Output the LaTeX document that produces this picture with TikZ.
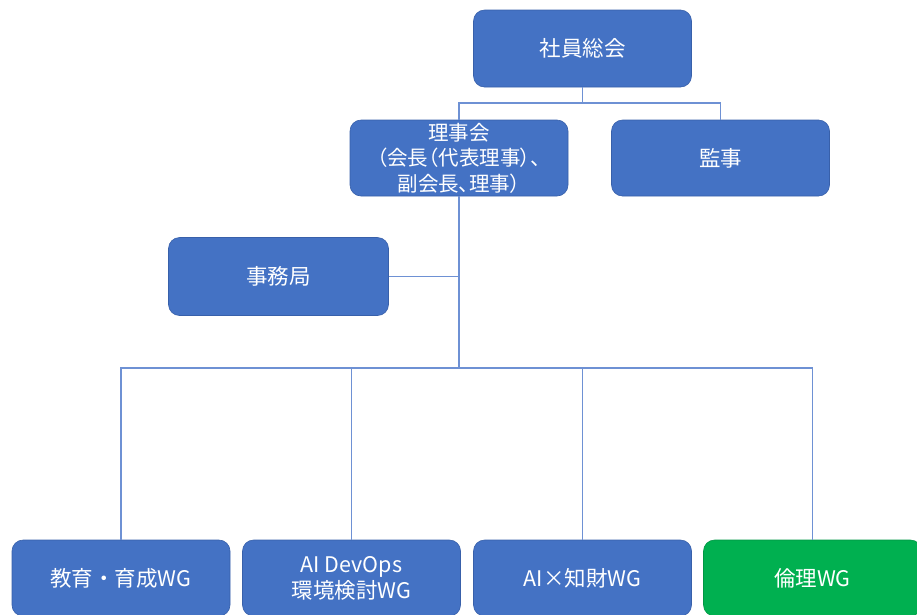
\documentclass[tikz,border=0pt]{standalone}
\usepackage{fontspec}
\newfontfamily\jp{Noto Sans CJK JP}
\newfontfamily\jpp[RawFeature=+palt]{Noto Sans CJK JP}
\definecolor{boxblue}{RGB}{68,114,196}
\definecolor{boxedge}{RGB}{56,96,170}
\definecolor{boxgreen}{RGB}{0,176,80}
\definecolor{linecol}{RGB}{110,145,212}
\tikzset{
  orgbox/.style={rounded corners=11pt, fill=boxblue, draw=boxedge, line width=0.6pt,
    text=white, align=center, inner sep=0pt, minimum width=218pt, minimum height=77pt,
    font=\jp\fontsize{21.5}{26}\selectfont},
  greenbox/.style={orgbox, fill=boxgreen, draw=boxgreen!85!black},
  conn/.style={draw=linecol, line width=1.4pt}
}
\begin{document}
\begin{tikzpicture}[x=1pt,y=-1pt]
\useasboundingbox (0,0) rectangle (917,614);
\begin{scope}
\clip (0,0) rectangle (917,614);
\node[orgbox] (top) at (582.5,48.5) {社員総会};
\node[orgbox, minimum height=76pt, font=\jpp\fontsize{20.5}{25.5}\selectfont] (riji) at (459,158) {理事会\\（会長（代表理事）、\\副会長、理事）};
\node[orgbox, minimum height=76pt] (kanji) at (720.5,158) {監事};
\node[orgbox, minimum width=220pt, minimum height=78pt] (jimu) at (278.5,276.5) {事務局};
\node[orgbox, minimum height=76pt] (wg1) at (121,578) {教育・育成WG};
\node[orgbox, minimum height=76pt] (wg2) at (351.5,578) {AI DevOps\\環境検討WG};
\node[orgbox, minimum height=76pt] (wg3) at (582.5,578) {AI×知財WG};
\node[greenbox, minimum height=76pt] (wg4) at (812.5,578) {倫理WG};
\coordinate (b1) at (582.5,103);
\coordinate (b2) at (459,368);
\draw[conn] (top.south) -- (b1);
\draw[conn] (riji.north) |- (b1) -| (kanji.north);
\draw[conn] (riji.south) -- (b2);
\draw[conn] (jimu.east) -- (riji.south |- jimu.east);
\draw[conn] (wg1.north) |- (b2) -| (wg4.north);
\draw[conn] (wg2.north) -- (wg2.north |- b2);
\draw[conn] (wg3.north) -- (wg3.north |- b2);
\end{scope}
\end{tikzpicture}
\end{document}
